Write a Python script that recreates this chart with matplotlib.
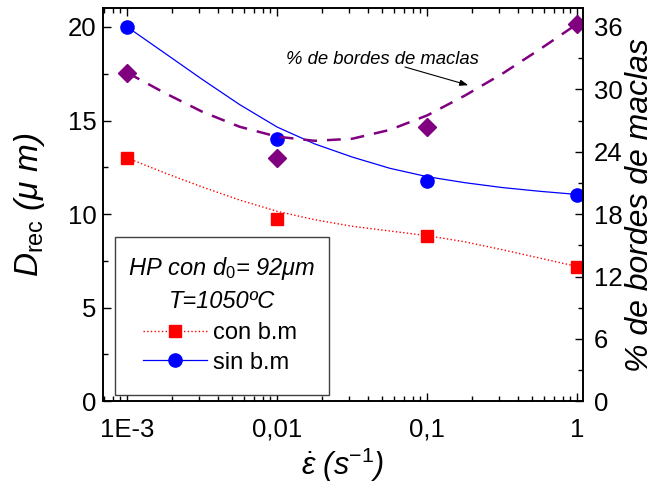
import matplotlib
matplotlib.use('Agg')
import matplotlib.pyplot as plt
from matplotlib.lines import Line2D
from matplotlib.patches import Rectangle
from matplotlib.ticker import LogLocator, MultipleLocator, NullFormatter

plt.rcParams['font.family'] = ['Liberation Sans', 'DejaVu Sans']
plt.rcParams['mathtext.fontset'] = 'custom'
plt.rcParams['mathtext.rm'] = 'Liberation Sans'
plt.rcParams['mathtext.it'] = 'Liberation Sans:italic'

# velocidad de deformacion (s-1)
tasa = [1e-3, 1e-2, 1e-1, 1.0]
tasa_etiquetas = ['1E-3', '0,01', '0,1', '1']

# tamaño de grano recristalizado (um)
d_con = [13.0, 9.72, 8.83, 7.17]
d_sin = [20.0, 13.99, 11.78, 11.01]
# porcentaje de bordes de maclas
pct_maclas = [31.6, 23.4, 26.4, 36.3]

# curvas de ajuste, cada cuarto de decada
tasa_ajuste = [0.001, 0.00178, 0.00316, 0.00562, 0.01, 0.0178, 0.0316,
               0.0562, 0.1, 0.178, 0.316, 0.562, 1.0]
ajuste_con = [13.0, 12.2, 11.45, 10.75, 10.15, 9.7, 9.35, 9.1, 8.85,
              8.52, 8.1, 7.65, 7.2]
ajuste_sin = [20.0, 18.6, 17.2, 15.85, 14.65, 13.75, 13.05, 12.45, 12.0,
              11.68, 11.42, 11.22, 11.05]
ajuste_maclas = [31.6, 29.65, 27.85, 26.4, 25.45, 25.05, 25.25, 26.1, 27.5,
                 29.4, 31.5, 33.85, 36.3]

fig = plt.figure(figsize=(6.58, 4.83), dpi=100)
ax = fig.add_axes([0.1565, 0.1692, 0.7295, 0.8137])

ax.plot(tasa_ajuste, ajuste_con, ':', color='red', lw=1.0)
ax.plot(tasa_ajuste, ajuste_sin, '-', color='blue', lw=0.9)
ax.plot(tasa, d_con, 's', color='red', ms=8.5, mec='red')
ax.plot(tasa, d_sin, 'o', color='blue', ms=9.5, mec='blue')

ax.set_xscale('log')
ax.set_xlim(6.89e-4, 1.091)
ax.set_ylim(0, 21)
ax.set_xticks(tasa, tasa_etiquetas)
ax.xaxis.set_minor_locator(LogLocator(base=10, subs=range(2, 10)))
ax.xaxis.set_minor_formatter(NullFormatter())
ax.set_yticks([0, 5, 10, 15, 20])
ax.yaxis.set_minor_locator(MultipleLocator(2.5))
ax.tick_params(which='both', direction='in', top=True, right=False, width=1)
ax.tick_params(which='major', length=6)
ax.tick_params(which='minor', length=3.5)
ax.tick_params(axis='x', labelsize=18.5, pad=12)
ax.tick_params(axis='y', labelsize=18.5, pad=4.5)
for s in ax.spines.values():
    s.set_linewidth(1.2)

ax.set_xlabel(r'$\dot{\varepsilon}$ (s$^{\mathit{-1}}$)', fontsize=22,
              fontstyle='italic')
ax.xaxis.set_label_coords(0.5, -0.112)
ax.set_ylabel(r'$\mathit{D}_{\mathrm{rec}}$ ($\mu$ m)', fontsize=24,
              fontstyle='italic')
ax.yaxis.set_label_coords(-0.117, 0.5)

# eje derecho: porcentaje de maclas
ax2 = ax.twinx()
ax2.plot(tasa_ajuste, ajuste_maclas, color='purple', lw=1.8,
         dashes=(5.5, 4))
ax2.plot(tasa, pct_maclas, 'D', color='purple', ms=9, mec='purple')
ax2.set_ylim(0, 37.8)
ax2.set_yticks(range(0, 37, 6))
ax2.yaxis.set_minor_locator(MultipleLocator(3))
ax2.tick_params(which='both', direction='in', width=1)
ax2.tick_params(which='major', length=6)
ax2.tick_params(which='minor', length=3.5)
ax2.tick_params(axis='y', labelsize=18.5, pad=8)
for s in ax2.spines.values():
    s.set_linewidth(1.2)
ax2.set_ylabel('% de bordes de maclas', fontsize=23, fontstyle='italic')
ax2.yaxis.set_label_coords(1.087, 0.5)

ax2.text(0.0503, 32.9, '% de bordes de maclas', fontsize=13.3,
         fontstyle='italic', ha='center', va='center')
ax2.annotate('', xy=(0.1876, 30.4), xytext=(0.0710, 32.15),
             arrowprops=dict(arrowstyle='-|>,head_length=0.5,head_width=0.18',
                             color='black', lw=0.8, shrinkA=0, shrinkB=0))

# cuadro de leyenda
caja = Rectangle((115 / 658, 1 - 395 / 483), 214 / 658, 158 / 483,
                 transform=fig.transFigure, facecolor='white',
                 edgecolor='#404040', lw=1.0, zorder=5)
fig.patches.append(caja)
fig.text(222 / 658, 1 - 268 / 483, r'HP con $\mathit{d_0}$= 92μm',
         fontsize=17, fontstyle='italic', ha='center', va='center', zorder=6)
fig.text(222 / 658, 1 - 302 / 483, 'T=1050ºC', fontsize=17,
         fontstyle='italic', ha='center', va='center', zorder=6)

manejadores = [
    Line2D([], [], ls=':', color='red', lw=1.0, marker='s', ms=8.5),
    Line2D([], [], ls='-', color='blue', lw=0.9, marker='o', ms=9.5),
]
leg = fig.legend(manejadores, ['con b.m', 'sin b.m'], loc='center left',
                 bbox_to_anchor=(143 / 658, 1 - 348 / 483), frameon=False,
                 fontsize=17, handlelength=2.7, handletextpad=0.25,
                 labelspacing=0.3, borderpad=0, borderaxespad=0,
                 numpoints=1)
leg.set_zorder(7)

fig.savefig('out.png', dpi=100)
